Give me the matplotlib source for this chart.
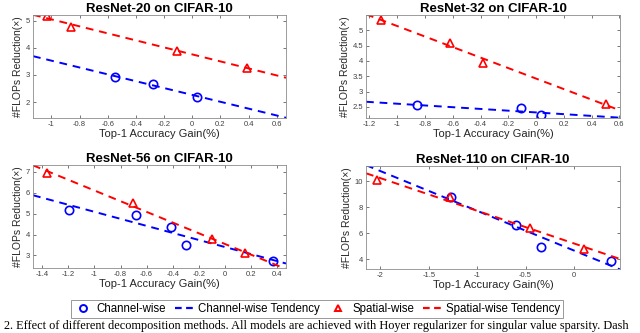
import numpy as np
import matplotlib
matplotlib.use("Agg")
import matplotlib.pyplot as plt
from matplotlib.lines import Line2D

plt.rcParams["font.family"] = ["Liberation Sans", "DejaVu Sans"]

titles = ["ResNet-20 on CIFAR-10", "ResNet-32 on CIFAR-10",
          "ResNet-56 on CIFAR-10", "ResNet-110 on CIFAR-10"]

# channel-wise points (accuracy gain %, FLOPs reduction x)
ch20_x = [-0.545, -0.276, 0.034]
ch20_y = [2.93, 2.65, 2.20]
ch32_x = [-0.857, -0.106, 0.034]
ch32_y = [2.55, 2.45, 2.23]
ch56_x = [-1.196, -0.683, -0.415, -0.295, 0.374]
ch56_y = [5.17, 4.95, 4.37, 3.52, 2.73]
ch110_x = [-1.268, -0.598, -0.344, 0.381]
ch110_y = [8.79, 6.67, 4.97, 3.87]

# spatial-wise points
sp20_x = [-1.03, -0.863, -0.108, 0.39]
sp20_y = [5.17, 4.78, 3.90, 3.26]
sp32_x = [-1.118, -0.622, -0.384, 0.504]
sp32_y = [5.34, 4.60, 3.95, 2.59]
sp56_x = [-1.364, -0.703, -0.10, 0.157]
sp56_y = [6.95, 5.49, 3.79, 3.10]
sp110_x = [-2.034, -1.285, -0.46, 0.103]
sp110_y = [10.10, 8.79, 6.44, 4.80]

xlims = [(-1.13, 0.665), (-1.225, 0.605), (-1.472, 0.47), (-2.148, 0.474)]
ylims = [(1.41, 5.21), (2.14, 5.5), (2.4, 7.32), (3.26, 11.18)]
xticks = [[-1, -0.8, -0.6, -0.4, -0.2, 0, 0.2, 0.4, 0.6],
          [-1.2, -1, -0.8, -0.6, -0.4, -0.2, 0, 0.2, 0.4, 0.6],
          [-1.4, -1.2, -1, -0.8, -0.6, -0.4, -0.2, 0, 0.2, 0.4],
          [-2, -1.5, -1, -0.5, 0]]
yticks = [[2, 3, 4, 5], [2.5, 3, 3.5, 4, 4.5, 5], [3, 4, 5, 6, 7], [4, 6, 8, 10]]

channel = [(ch20_x, ch20_y), (ch32_x, ch32_y), (ch56_x, ch56_y), (ch110_x, ch110_y)]
spatial = [(sp20_x, sp20_y), (sp32_x, sp32_y), (sp56_x, sp56_y), (sp110_x, sp110_y)]

W, H = 640, 333
fig = plt.figure(figsize=(W / 100, H / 100), dpi=100)

# axes boxes in pixels: left, top, right, bottom
boxes = [(33, 15, 286, 118), (366, 15, 620, 118),
         (33, 165, 286, 268), (366, 166, 620, 269)]

blue = "#0000ff"
red = "#ff0000"

for i, (l, t, r, b) in enumerate(boxes):
    ax = fig.add_axes([l / W, 1 - b / H, (r - l) / W, (b - t) / H])
    xs = np.array(xlims[i])
    for (px, py), col, mk in [(channel[i], blue, "o"), (spatial[i], red, "^")]:
        # tendency = least-squares line through the points
        k, c = np.polyfit(px, py, 1)
        ax.plot(xs, k * xs + c, "--", color=col, lw=1.4, dashes=(4, 3))
        ax.plot(px, py, mk, mfc="none", mec=col, mew=1.2, ms=6, linestyle="none")
    ax.set_xlim(xlims[i])
    ax.set_ylim(ylims[i])
    ax.set_xticks(xticks[i])
    ax.set_xticklabels([f"{v:g}" for v in xticks[i]])
    ax.set_yticks(yticks[i])
    ax.set_yticklabels([f"{v:g}" for v in yticks[i]])
    ax.tick_params(direction="in", length=2, width=0.5, labelsize=5.5,
                   colors="#404040", top=True, right=True, pad=2)
    for sp in ax.spines.values():
        sp.set_color("#8c8c8c")
        sp.set_linewidth(0.6)
    ax.set_title(titles[i], fontsize=9.5, fontweight="bold", pad=2)
    ax.set_xlabel("Top-1 Accuracy Gain(%)", fontsize=8, color="#262626", labelpad=1)
    ax.set_ylabel("#FLOPs Reduction(\u00d7)", fontsize=7.5, color="#262626", labelpad=2)

handles = [
    Line2D([], [], marker="o", mfc="none", mec=blue, mew=1.4, ms=5, linestyle="none"),
    Line2D([], [], color=blue, ls="--", lw=1.6, dashes=(3, 2)),
    Line2D([], [], marker="^", mfc="none", mec=red, mew=1.4, ms=5, linestyle="none"),
    Line2D([], [], color=red, ls="--", lw=1.6, dashes=(3, 2)),
]
labels = ["Channel-wise", "Channel-wise Tendency", "Spatial-wise", "Spatial-wise Tendency"]
leg = fig.legend(handles, labels, ncol=4, loc="center", bbox_to_anchor=(317 / W, 1 - 309 / H),
                 fontsize=8.3, frameon=True, fancybox=False, handlelength=1.6,
                 handletextpad=0.4, columnspacing=0.8, borderpad=0.25)
leg.get_frame().set_edgecolor("#7f7f7f")
leg.get_frame().set_linewidth(0.7)

fig.text(4 / W, 0.5 / H,
         "2. Effect of different decomposition methods. All models are achieved with Hoyer "
         "regularizer for singular value sparsity. Dash",
         family=["Liberation Serif"], fontsize=8.8, ha="left", va="bottom")

fig.savefig("out.png", dpi=100)
